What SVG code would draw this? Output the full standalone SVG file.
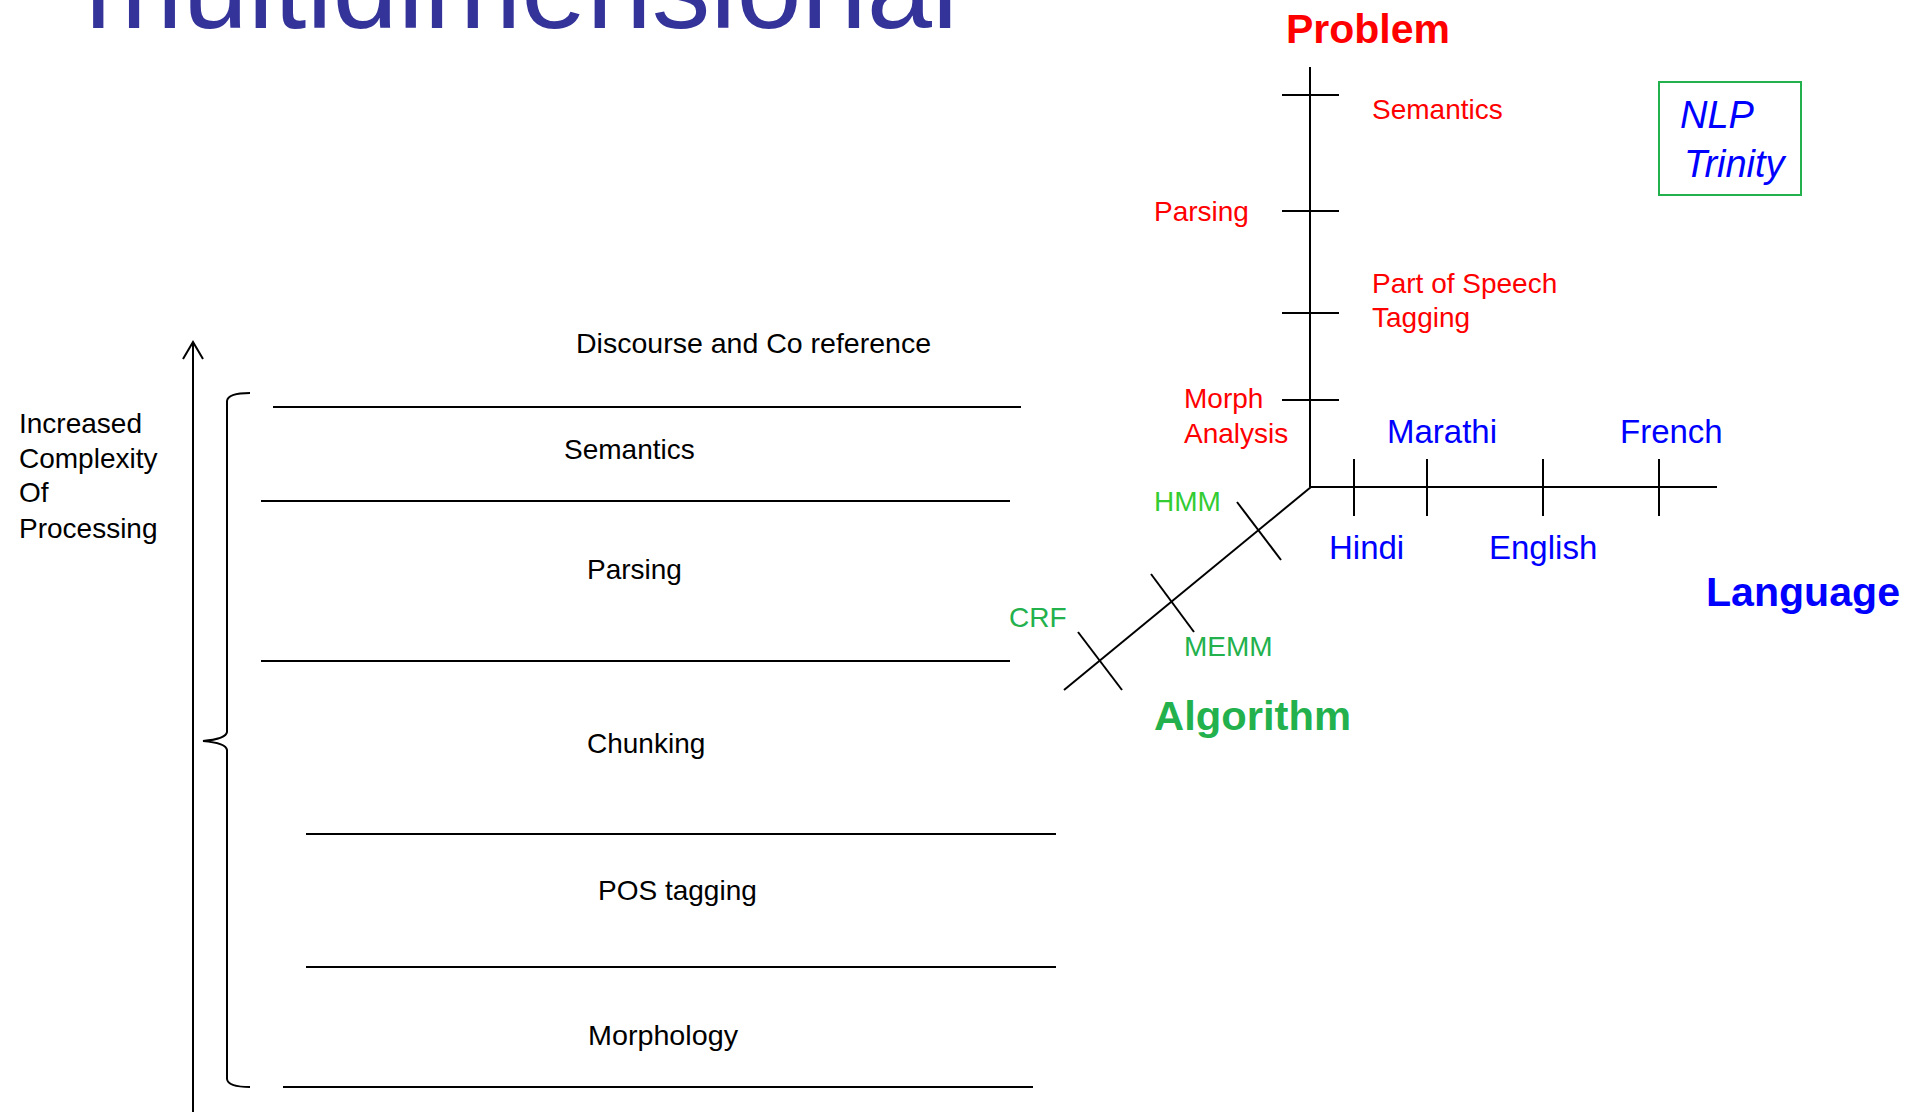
<svg xmlns="http://www.w3.org/2000/svg" width="1909" height="1112" viewBox="0 0 1909 1112">
  <style>
    text { font-family: "Liberation Sans", Arial, sans-serif; }
    .lbl { font-size: 28px; fill: #000; }
    .red { font-size: 28px; fill: #ff0000; }
    .blue { font-size: 33px; fill: #0000ff; }
    .axisTitle { font-size: 41px; font-weight: bold; }
    .ln { stroke: #000; stroke-width: 2; fill: none; }
    .ax { stroke: #000; stroke-width: 2; fill: none; }
  </style>
  <rect width="1909" height="1112" fill="#ffffff"/>

  <g id="title">
    <text x="85" y="28" font-size="116" fill="#333399" textLength="873" lengthAdjust="spacingAndGlyphs">multidimensional</text>
  </g>

  <g id="complexity-axis">
    <line class="ln" x1="193" y1="1112" x2="193" y2="343" stroke-width="2.5"/>
    <polyline class="ln" points="183,359 193,342 203,359" stroke-width="2.5"/>
    <text class="lbl" x="19" y="433">Increased</text>
    <text class="lbl" x="19" y="468">Complexity</text>
    <text class="lbl" x="19" y="502">Of</text>
    <text class="lbl" x="19" y="538">Processing</text>
  </g>

  <g id="brace">
    <path class="ln" d="M 250 393 Q 228 393 227 401 L 227 732 Q 226 739 203 741 Q 226 743 227 750 L 227 1079 Q 228 1087 250 1087"/>
  </g>

  <g id="layers">
    <line class="ln" x1="273" y1="407" x2="1021" y2="407"/>
    <line class="ln" x1="261" y1="501" x2="1010" y2="501"/>
    <line class="ln" x1="261" y1="661" x2="1010" y2="661"/>
    <line class="ln" x1="306" y1="834" x2="1056" y2="834"/>
    <line class="ln" x1="306" y1="967" x2="1056" y2="967"/>
    <line class="ln" x1="283" y1="1087" x2="1033" y2="1087"/>
  </g>
  <g id="layer-discourse"><text class="lbl" x="576" y="353" textLength="355" lengthAdjust="spacingAndGlyphs">Discourse and Co reference</text></g>
  <g id="layer-semantics"><text class="lbl" x="564" y="459">Semantics</text></g>
  <g id="layer-parsing"><text class="lbl" x="587" y="579">Parsing</text></g>
  <g id="layer-chunking"><text class="lbl" x="587" y="753">Chunking</text></g>
  <g id="layer-pos"><text class="lbl" x="598" y="900">POS tagging</text></g>
  <g id="layer-morphology"><text class="lbl" x="588" y="1045" textLength="150" lengthAdjust="spacingAndGlyphs">Morphology</text></g>

  <g id="connectors">
    <!-- Problem axis -->
    <line class="ax" x1="1310" y1="67" x2="1310" y2="487"/>
    <line class="ax" x1="1282" y1="95" x2="1339" y2="95"/>
    <line class="ax" x1="1282" y1="211" x2="1339" y2="211"/>
    <line class="ax" x1="1282" y1="313" x2="1339" y2="313"/>
    <line class="ax" x1="1282" y1="400" x2="1339" y2="400"/>
    <!-- Language axis -->
    <line class="ax" x1="1310" y1="487" x2="1717" y2="487"/>
    <line class="ax" x1="1354" y1="459" x2="1354" y2="516"/>
    <line class="ax" x1="1427" y1="459" x2="1427" y2="516"/>
    <line class="ax" x1="1543" y1="459" x2="1543" y2="516"/>
    <line class="ax" x1="1659" y1="459" x2="1659" y2="516"/>
    <!-- Algorithm axis -->
    <line class="ax" x1="1311" y1="487" x2="1064" y2="690"/>
    <line class="ax" x1="1237" y1="502" x2="1281" y2="560"/>
    <line class="ax" x1="1151" y1="574" x2="1194" y2="632"/>
    <line class="ax" x1="1078" y1="632" x2="1122" y2="690"/>
  </g>

  <g id="problem-axis-labels">
    <text class="axisTitle" x="1286" y="43" fill="#ff0000" textLength="164" lengthAdjust="spacingAndGlyphs">Problem</text>
    <text class="red" x="1372" y="119">Semantics</text>
    <text class="red" x="1154" y="221">Parsing</text>
    <text class="red" x="1372" y="293">Part of Speech</text>
    <text class="red" x="1372" y="327">Tagging</text>
    <text class="red" x="1184" y="408">Morph</text>
    <text class="red" x="1184" y="443">Analysis</text>
  </g>

  <g id="language-axis-labels">
    <text class="blue" x="1387" y="443">Marathi</text>
    <text class="blue" x="1620" y="443">French</text>
    <text class="blue" x="1329" y="559">Hindi</text>
    <text class="blue" x="1489" y="559">English</text>
    <text class="axisTitle" x="1706" y="606" fill="#0000ff" textLength="194" lengthAdjust="spacingAndGlyphs">Language</text>
  </g>

  <g id="algorithm-axis-labels">
    <text x="1154" y="511" font-size="28" fill="#33cc33">HMM</text>
    <text x="1009" y="627" font-size="28" fill="#22b14c">CRF</text>
    <text x="1184" y="656" font-size="28" fill="#22b14c">MEMM</text>
    <text class="axisTitle" x="1154" y="730" fill="#22b14c" textLength="197" lengthAdjust="spacingAndGlyphs">Algorithm</text>
  </g>

  <g id="nlp-trinity">
    <rect x="1659" y="82" width="142" height="113" fill="none" stroke="#22b14c" stroke-width="2"/>
    <text x="1680" y="128" font-size="38" font-style="italic" fill="#0000ff">NLP</text>
    <text x="1684" y="177" font-size="38" font-style="italic" fill="#0000ff">Trinity</text>
  </g>
</svg>
